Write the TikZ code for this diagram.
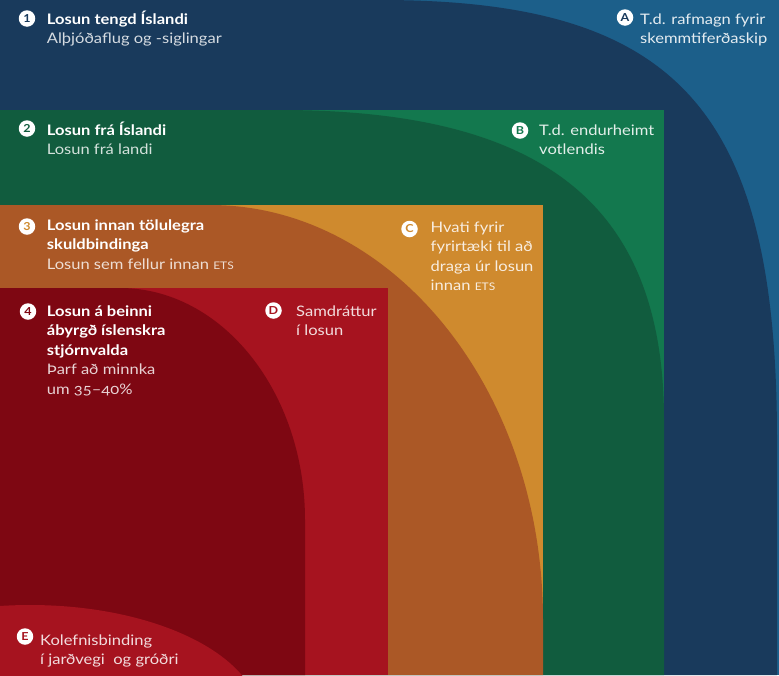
\documentclass[tikz,border=0pt]{standalone}
\usepackage{fontspec}
\setmainfont{Lato}[FakeStretch=1.14]
\definecolor{cLB}{HTML}{1C5F8A}
\definecolor{cNavy}{HTML}{193A5C}
\definecolor{cLG}{HTML}{13784E}
\definecolor{cDG}{HTML}{115C3E}
\definecolor{cOr}{HTML}{CF8A2E}
\definecolor{cRust}{HTML}{AB5826}
\definecolor{cRed}{HTML}{A6131F}
\definecolor{cDR}{HTML}{7E0712}
\newcommand\blk[1]{\begin{tabular}[t]{@{}l@{}}#1\end{tabular}}
\newcommand\etsx{{\fontsize{10.5}{12}\selectfont ETS}}
\begin{document}
\begin{tikzpicture}[x=1pt,y=-1pt,
  badge/.style={circle,fill=white,inner sep=0pt,minimum size=16.5pt,font=\fontsize{11}{11}\selectfont\bfseries},
  lbl/.style={anchor=base west,inner sep=0pt,font=\fontsize{14.5}{19.5}\selectfont}]
\useasboundingbox (0,0) rectangle (779,675);
% layers
\fill[cLB] (0,0) rectangle (779,675);
\fill[cNavy] (0,0) -- (380,0) .. controls (678,0) and (777,110) .. (777,440) -- (777,675) -- (0,675) -- cycle;
\fill[cLG] (0,110) rectangle (664,675);
\fill[cDG] (0,110) -- (280,110) .. controls (545,110) and (664,206) .. (664,420) -- (664,675) -- (0,675) -- cycle;
\fill[cOr] (0,205) rectangle (543,675);
\fill[cRust] (0,205) -- (210,205) .. controls (394,205) and (543,391) .. (543,620) -- (543,675) -- (0,675) -- cycle;
\fill[cRed] (0,288) rectangle (388,675);
\fill[cDR] (0,288) -- (120,288) .. controls (222,288) and (305,392) .. (305,520) -- (305,675) -- (0,675) -- cycle;
\begin{scope}
\clip (0,288) rectangle (388,675);
\fill[cRed] (30,720) ellipse [x radius=230pt, y radius=115pt];
\end{scope}
% badges
\node[badge,text=cNavy] (b1) at (27,18.5) {1};
\node[badge,text=cNavy] (bA) at (625,17.5) {A};
\node[badge,text=cDG] (b2) at (27,128.5) {2};
\node[badge,text=cLG] (bB) at (520,130.5) {B};
\node[badge,text=cOr] (b3) at (27,226.5) {3};
\node[badge,text=cOr] (bC) at (409.5,229) {C};
\node[badge,text=cDR] (b4) at (28,311.5) {4};
\node[badge,text=cRed] (bD) at (273.5,310.5) {D};
\node[badge,text=cRed] (bE) at (25,636.5) {E};
% labels
\node[lbl] (t1) at (46.7,24) {\blk{\textcolor{white}{\bfseries Losun tengd Íslandi}\\
  \textcolor{white!82!cNavy}{Alþjóðaflug og -siglingar}}};
\node[lbl] (tA) at (640,24) {\blk{\textcolor{white!88!cLB}{T.d. rafmagn fyrir}\\
  \textcolor{white!88!cLB}{skemmtiferðaskip}}};
\node[lbl] (t2) at (46.7,135) {\blk{\textcolor{white}{\bfseries Losun frá Íslandi}\\
  \textcolor{white!82!cDG}{Losun frá landi}}};
\node[lbl] (tB) at (539,135) {\blk{\textcolor{white!88!cLG}{T.d. endurheimt}\\
  \textcolor{white!88!cLG}{votlendis}}};
\node[lbl] (t3) at (46.7,230) {\blk{\textcolor{white}{\bfseries Losun innan tölulegra}\\
  \textcolor{white}{\bfseries skuldbindinga}\\
  \textcolor{white!80!cRust}{Losun sem fellur innan \etsx}}};
\node[lbl] (tC) at (430.5,232) {\blk{\textcolor{white!85!cOr}{Hvati fyrir}\\
  \textcolor{white!85!cOr}{fyrirtæki til að}\\
  \textcolor{white!85!cOr}{draga úr losun}\\
  \textcolor{white!85!cOr}{innan \etsx}}};
\node[lbl] (t4) at (46.7,316) {\blk{\textcolor{white}{\bfseries Losun á beinni}\\
  \textcolor{white}{\bfseries ábyrgð íslenskra}\\
  \textcolor{white}{\bfseries stjórnvalda}\\
  \textcolor{white!82!cDR}{Þarf að minnka}\\
  \textcolor{white!82!cDR}{\addfontfeature{Numbers=OldStyle}um 35–40\%}}};
\node[lbl] (tD) at (296,316) {\blk{\textcolor{white!85!cRed}{Samdráttur}\\
  \textcolor{white!85!cRed}{í losun}}};
\node[lbl] (tE) at (40,645) {\blk{\textcolor{white!85!cRed}{Kolefnisbinding}\\
  \textcolor{white!85!cRed}{í jarðvegi\ \ og gróðri}}};
\end{tikzpicture}
\end{document}
